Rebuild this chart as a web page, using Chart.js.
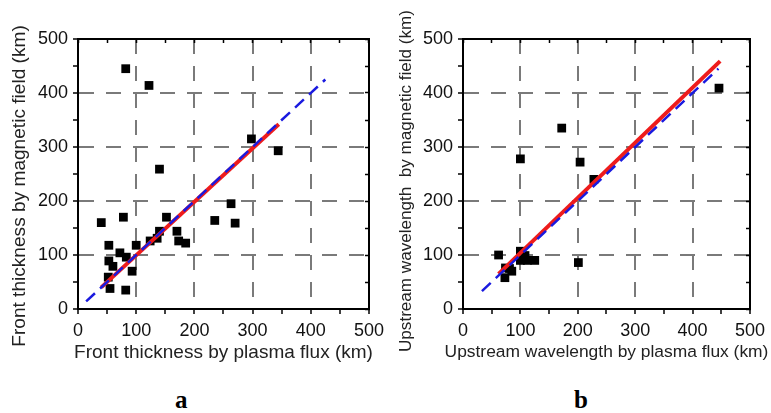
<!DOCTYPE html>
<html>
<head>
<meta charset="utf-8">
<script src="https://cdn.jsdelivr.net/npm/chart.js@4.4.1/dist/chart.umd.min.js"></script>
<style>
  html, body { margin: 0; padding: 0; background: #fff; }
  body { width: 771px; height: 413px; position: relative; overflow: hidden; }
  canvas { position: absolute; top: 0; }
  #ca { left: 0; }
  #cb { left: 385px; }
  .lab { position: absolute; font-family: "Liberation Serif", serif; font-weight: bold; font-size: 25px; color: #000; }
</style>
</head>
<body>
<canvas id="ca" width="390" height="372"></canvas>
<canvas id="cb" width="386" height="372"></canvas>
<div class="lab" style="left:175px; top:386px;">a</div>
<div class="lab" style="left:574px; top:386px;">b</div>
<script>
// ---- Panel a data ----
const aX = [82,122,140,298,344,40,78,152,235,263,270,170,140,136,124,173,185,53,100,72,83,53,60,93,52,55,82];
const aY = [445,414,259,315,293,160,170,170,164,195,159,144,144,131,126,126,122,118,118,104,96,89,79,70,59,38,35];
const aBlueX = [14, 425];
const aBlueY = [14, 425];
const aRedX = [40, 345];
const aRedY = [40, 342];
const aXTitle = "Front thickness by plasma flux (km)";
const aYTitle = "Front thickness by magnetic field (km)";

// ---- Panel b data ----
const bX = [172,100,204,228,446,62,100,108,100,112,125,201,74,85,73,81];
const bY = [335,278,272,240,409,100,107,99,90,90,90,86,76,70,58,75];
const bBlueX = [33, 445];
const bBlueY = [33, 445];
const bRedX = [62, 448];
const bRedY = [65, 459];
const bXTitle = "Upstream wavelength by plasma flux (km)";
const bYTitle = "Upstream wavelength  by magnetic field (km)";

// ---- Shared axis ticks ----
const axisMin = 0, axisMax = 500, minorStep = 50, majorStep = 100;

function pts(xs, ys) { return xs.map((x, i) => ({x: x, y: ys[i]})); }

const FONT = "'Liberation Sans', Arial, sans-serif";

function gridColor(ctx) {
  const v = ctx.tick ? ctx.tick.value : null;
  if (v === null) return 'rgba(0,0,0,0)';
  if (v % majorStep === 0 && v > axisMin && v < axisMax) return '#7a7a7a';
  return 'rgba(0,0,0,0)';
}

// Let axis titles run past the plot width / sit off-centre like the original.
function patchTitle(scale, widen, shift) {
  if (scale._titlePatched) return;
  scale._titlePatched = true;
  const orig = scale.drawTitle;
  scale.drawTitle = function () {
    const saved = [this.left, this.right, this.top, this.bottom];
    this.left -= widen; this.right += widen;
    this.top += shift; this.bottom += shift;
    orig.call(this);
    this.left = saved[0]; this.right = saved[1]; this.top = saved[2]; this.bottom = saved[3];
  };
}

function buildChart(id, sx, sy, bx, by, rx, ry, xt, yt, dims) {
  const ctx = document.getElementById(id);
  const mainGrid = {
    color: gridColor, lineWidth: 2, drawTicks: true,
    tickLength: 5, tickColor: '#000', tickWidth: 1.5
  };
  const tickFont = { family: FONT, size: 18 };
  return new Chart(ctx, {
    type: 'scatter',
    data: {
      datasets: [
        { label: 'y=x', data: pts(bx, by), showLine: true, pointRadius: 0,
          borderColor: '#1a1adf', borderWidth: 2.5, borderDash: [12, 7], order: 0, fill: false },
        { label: 'fit', data: pts(rx, ry), showLine: true, pointRadius: 0,
          borderColor: '#ee1c1c', borderWidth: 4, order: 1, fill: false },
        { label: 'data', data: pts(sx, sy), pointStyle: 'rect', pointRadius: 6.2,
          pointBackgroundColor: '#000', pointBorderWidth: 0, order: 2 }
      ]
    },
    options: {
      responsive: false, animation: false, devicePixelRatio: 1,
      layout: { padding: 0 },
      plugins: { legend: { display: false }, tooltip: { enabled: false } },
      scales: {
        x: {
          type: 'linear', position: 'bottom', min: axisMin, max: axisMax,
          ticks: { stepSize: minorStep, autoSkip: false, maxRotation: 0, padding: 6,
                   color: '#111', font: tickFont,
                   callback: v => (v % majorStep === 0 ? String(v) : '') },
          grid: mainGrid,
          border: { display: true, color: '#000', width: 2, dash: [15, 12] },
          title: { display: true, text: xt, color: '#222', font: { family: FONT, size: dims.xTitleSize },
                   padding: { top: 0, bottom: dims.xTitlePad } },
          afterFit: s => { s.height = dims.h - dims.bottom; },
          afterUpdate: s => patchTitle(s, 40, 0)
        },
        x2: {
          type: 'linear', position: 'top', min: axisMin, max: axisMax,
          ticks: { stepSize: minorStep, display: false, autoSkip: false },
          grid: { drawOnChartArea: false, drawTicks: true, tickLength: -4, tickColor: '#000', tickWidth: 1.5 },
          border: { display: true, color: '#000', width: 2 },
          afterFit: s => { s.height = dims.top; }
        },
        y: {
          type: 'linear', position: 'left', min: axisMin, max: axisMax,
          ticks: { stepSize: minorStep, autoSkip: false, padding: 5,
                   color: '#111', font: tickFont,
                   callback: v => (v % majorStep === 0 ? String(v) : '') },
          grid: mainGrid,
          border: { display: true, color: '#000', width: 2, dash: [15, 12] },
          title: { display: true, text: yt, color: '#222', font: { family: FONT, size: dims.yTitleSize },
                   padding: { top: dims.yTitlePad, bottom: 0 } },
          afterFit: s => { s.width = dims.left; },
          afterUpdate: s => patchTitle(s, 0, dims.yTitleShift)
        },
        y2: {
          type: 'linear', position: 'right', min: axisMin, max: axisMax,
          ticks: { stepSize: minorStep, display: false, autoSkip: false },
          grid: { drawOnChartArea: false, drawTicks: true, tickLength: -4, tickColor: '#000', tickWidth: 1.5 },
          border: { display: true, color: '#000', width: 2 },
          afterFit: s => { s.width = dims.w - dims.right; }
        }
      }
    }
  });
}

buildChart('ca', aX, aY, aBlueX, aBlueY, aRedX, aRedY, aXTitle, aYTitle,
  { w: 390, h: 372, left: 78, right: 370, top: 39, bottom: 309,
    xTitleSize: 19, yTitleSize: 19.1, xTitlePad: 7.5, yTitlePad: 8.5, yTitleShift: 12 });
buildChart('cb', bX, bY, bBlueX, bBlueY, bRedX, bRedY, bXTitle, bYTitle,
  { w: 386, h: 372, left: 78, right: 370, top: 39, bottom: 309,
    xTitleSize: 17.4, yTitleSize: 17.1, xTitlePad: 9.5, yTitlePad: 11.5, yTitleShift: 7 });
</script>
</body>
</html>
